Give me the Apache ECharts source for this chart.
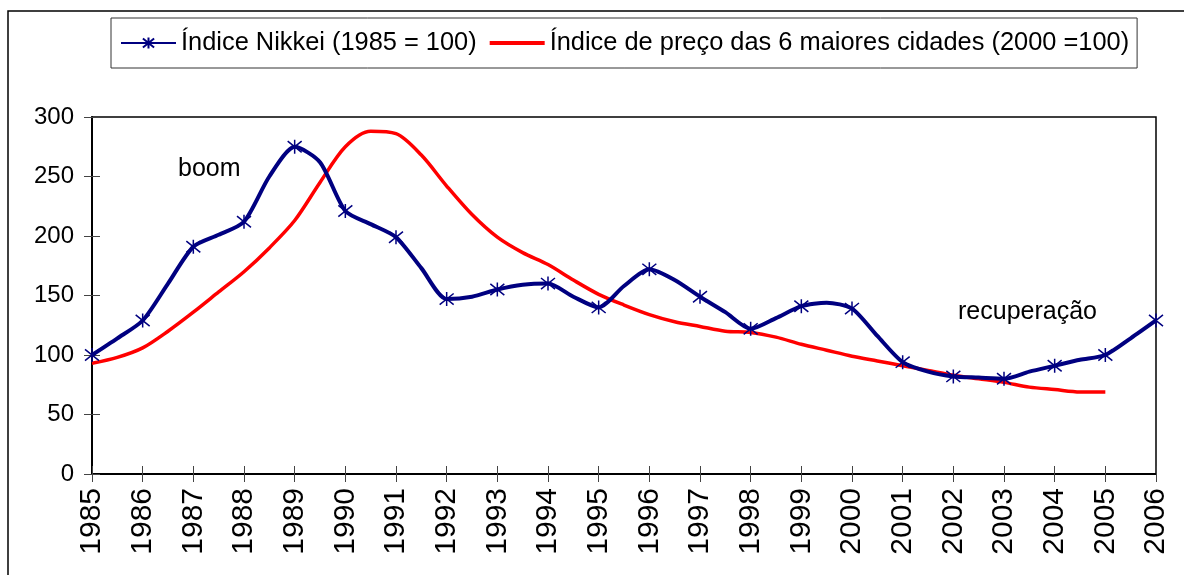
<!DOCTYPE html>
<html>
<head>
<meta charset="utf-8">
<script src="https://cdn.jsdelivr.net/npm/echarts@6/dist/echarts.min.js"></script>
<style>
html, body { margin: 0; padding: 0; background: #fff; }
#chart { width: 1184px; height: 575px; }
</style>
</head>
<body>
<div id="chart"></div>
<script>
// Nikkei, valores anuais (com marcador) e semestrais (sem marcador)
var nikkeiYears = [1985, 1986, 1987, 1988, 1989, 1990, 1991, 1992, 1993, 1994, 1995,
	1996, 1997, 1998, 1999, 2000, 2001, 2002, 2003, 2004, 2005, 2006];
var nikkeiValues = [100, 129, 191, 212, 275, 221, 199, 147, 155, 160, 140,
	172, 149, 122, 141, 139, 94, 82, 80, 91, 100, 129];
var nikkeiMid = [114, 160, 201, 250, 262, 210, 173, 149, 159, 149, 158,
	163, 136, 131, 144, 116, 86, 81, 86, 96, 114];

// preço das 6 maiores cidades, semestral 1985 - 2005
var precoStart = 1985;
var precoValues = [93, 98, 106, 120, 136, 153, 170, 190, 213, 245, 275,
	288, 286, 268, 242, 218, 199, 186, 176, 163, 151, 142,
	134, 128, 124, 120, 119, 115, 109, 104, 99, 95, 91,
	87, 83, 80, 77, 73, 71, 69, 69];

var FONT = "'Liberation Sans', Arial, sans-serif";
var star = 'path://M0,-10L0,10M-8,-8L8,8M-8,8L8,-8';

var nikkeiData = [];
for (var i = 0; i < nikkeiYears.length; i++) {
	nikkeiData.push({ value: [nikkeiYears[i], nikkeiValues[i]] });
	if (i < nikkeiMid.length) {
		nikkeiData.push({ value: [nikkeiYears[i] + 0.5, nikkeiMid[i]], symbol: 'none' });
	}
}
var precoData = [];
for (var j = 0; j < precoValues.length; j++) {
	precoData.push([precoStart + j * 0.5, precoValues[j]]);
}

var chart = echarts.init(document.getElementById('chart'));
chart.setOption({
	animation: false,
	backgroundColor: '#fff',
	textStyle: { fontFamily: FONT },
	graphic: [{
		type: 'rect',
		shape: { x: 8, y: 11, width: 1200, height: 600 },
		style: { fill: 'none', stroke: '#000', lineWidth: 1.5 },
		silent: true
	}, {
		type: 'text',
		left: 178, top: 157,
		style: { text: 'boom', font: '25px ' + FONT, fill: '#000' }
	}, {
		type: 'text',
		left: 958, top: 300,
		style: { text: 'recuperação', font: '25px ' + FONT, fill: '#000' }
	}],
	legend: {
		left: 111,
		top: 18,
		padding: [10, 8, 10, 9],
		itemWidth: 55,
		itemHeight: 14,
		itemGap: 13,
		borderColor: '#333',
		borderWidth: 1,
		textStyle: { fontSize: 25.4, color: '#000', fontFamily: FONT, lineHeight: 30 },
		data: [
			{ name: 'Índice Nikkei (1985 = 100)' },
			{ name: 'Índice de preço das 6 maiores cidades (2000 =100)',
				icon: 'path://M0,0L55,0L55,4L0,4Z' }
		]
	},
	grid: {
		left: 92, top: 117, right: 28, bottom: 101,
		show: true, borderColor: '#000', borderWidth: 1.5
	},
	xAxis: [{
		type: 'value', min: 1985, max: 2006, interval: 1,
		axisLine: { lineStyle: { color: '#000', width: 2 } },
		axisTick: { length: 8, lineStyle: { color: '#444', width: 1 } },
		axisLabel: {
			rotate: 90, margin: 14, fontSize: 30, color: '#000', fontFamily: FONT,
			formatter: function (v) { return String(v); }
		},
		splitLine: { show: false }
	}, {
		type: 'value', min: 1985, max: 2006, interval: 1, position: 'bottom',
		axisLine: { show: false },
		axisTick: { inside: true, length: 8, lineStyle: { color: '#444', width: 1 } },
		axisLabel: { show: false },
		splitLine: { show: false }
	}],
	yAxis: [{
		type: 'value', min: 0, max: 300, interval: 50,
		axisLine: { show: true, lineStyle: { color: '#000', width: 2 } },
		axisTick: { show: true, length: 8, lineStyle: { color: '#444', width: 1 } },
		axisLabel: { margin: 18, fontSize: 24, color: '#000', fontFamily: FONT },
		splitLine: { show: false }
	}, {
		type: 'value', min: 0, max: 300, interval: 50, position: 'left',
		axisLine: { show: false },
		axisTick: { show: true, inside: true, length: 8, lineStyle: { color: '#444', width: 1 } },
		axisLabel: { show: false },
		splitLine: { show: false }
	}],
	series: [{
		name: 'Índice Nikkei (1985 = 100)',
		type: 'line',
		data: nikkeiData,
		smooth: 0.25,
		symbol: star,
		symbolSize: 14,
		itemStyle: { color: '#000080', borderColor: '#000080', borderWidth: 1.5 },
		lineStyle: { color: '#000080', width: 4 },
		z: 3
	}, {
		name: 'Índice de preço das 6 maiores cidades (2000 =100)',
		type: 'line',
		data: precoData,
		smooth: 0.3,
		symbol: 'none',
		itemStyle: { color: '#ff0000' },
		lineStyle: { color: '#ff0000', width: 3.5 },
		z: 2
	}]
});
</script>
</body>
</html>
